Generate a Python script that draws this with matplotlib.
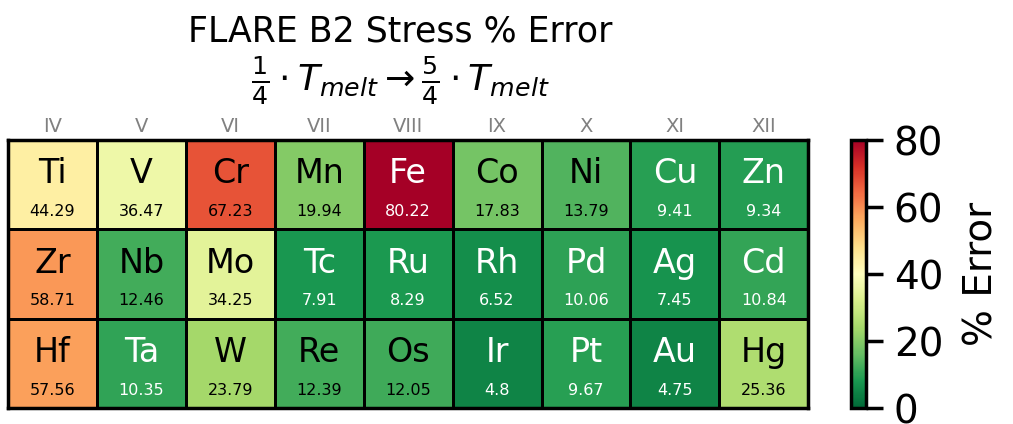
import matplotlib
matplotlib.use("Agg")
import matplotlib.pyplot as plt
import numpy as np

# periodic table block, rows = periods 4-6, cols = groups IV..XII
groups = ["IV", "V", "VI", "VII", "VIII", "IX", "X", "XI", "XII"]
row4 = ["Ti", "V", "Cr", "Mn", "Fe", "Co", "Ni", "Cu", "Zn"]
row5 = ["Zr", "Nb", "Mo", "Tc", "Ru", "Rh", "Pd", "Ag", "Cd"]
row6 = ["Hf", "Ta", "W", "Re", "Os", "Ir", "Pt", "Au", "Hg"]
err4 = [44.29, 36.47, 67.23, 19.94, 80.22, 17.83, 13.79, 9.41, 9.34]
err5 = [58.71, 12.46, 34.25, 7.91, 8.29, 6.52, 10.06, 7.45, 10.84]
err6 = [57.56, 10.35, 23.79, 12.39, 12.05, 4.8, 9.67, 4.75, 25.36]

symbols = [row4, row5, row6]
errors = np.array([err4, err5, err6])

fig = plt.figure(figsize=(10.13, 4.24), dpi=100)
ax = fig.add_axes([0.0079, 0.0377, 0.79, 0.632])

mesh = ax.pcolormesh(errors, cmap="RdYlGn_r", vmin=0, vmax=80,
                     edgecolors="black", linewidth=2)
ax.set_xlim(0, 9)
ax.set_ylim(3, 0)
ax.set_xticks([])
ax.set_yticks([])
for s in ax.spines.values():
    s.set_linewidth(2.5)

for r in range(3):
    for c in range(9):
        v = errors[r, c]
        col = "white" if (v < 11 or v > 75) else "black"
        ax.text(c + 0.5, r + 0.38, symbols[r][c], ha="center", va="center",
                fontsize=24, color=col)
        ax.text(c + 0.5, r + 0.8, str(v), ha="center", va="center",
                fontsize=11.5, color=col)

for c, g in enumerate(groups):
    ax.text(c + 0.5, -0.05, g, ha="center", va="bottom", fontsize=14,
            color="gray")

fig.text(0.395, 0.925, "FLARE B2 Stress % Error", ha="center", va="center",
         fontsize=25)
fig.text(0.395, 0.81, r"$\frac{1}{4}\cdot T_{melt} \rightarrow \frac{5}{4}\cdot T_{melt}$",
         ha="center", va="center", fontsize=26)

cax = fig.add_axes([0.840, 0.0377, 0.0148, 0.632])
cb = fig.colorbar(mesh, cax=cax)
cb.set_ticks([0, 20, 40, 60, 80])
cb.ax.tick_params(labelsize=28, width=2.5, length=12, pad=8)
cb.outline.set_linewidth(2.5)
cb.set_label("% Error", fontsize=28, labelpad=14)

fig.savefig("out.png", dpi=100)
